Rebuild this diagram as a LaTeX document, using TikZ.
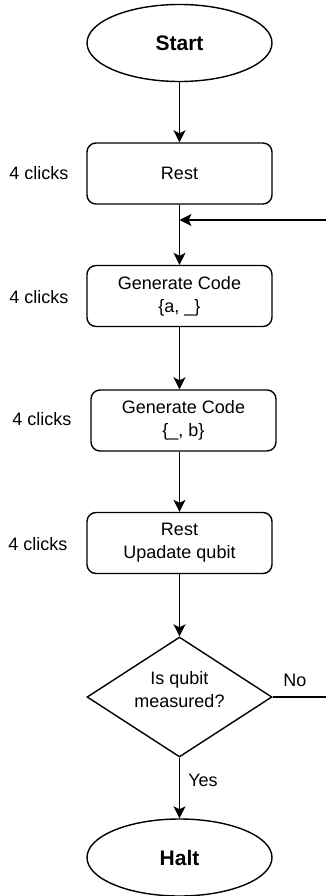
\documentclass[tikz,border=0pt]{standalone}
\usepackage{fontspec}
\setmainfont{Liberation Sans}
\usetikzlibrary{shapes.geometric,arrows.meta}
\begin{document}
\begin{tikzpicture}[x=1pt,y=-1pt,
  every node/.style={font=\fontsize{18}{23}\selectfont},
  line/.style={line width=1.4pt},
  arr/.style={line, -{Stealth[length=12pt,width=12pt,inset=3pt]}},
  terminal/.style={ellipse, draw, line width=1.4pt, minimum width=185pt, minimum height=77pt, inner sep=0pt, font=\fontsize{21}{25}\selectfont\bfseries},
  procbox/.style={rectangle, draw, line width=1.4pt, rounded corners=9pt, minimum width=185pt, minimum height=61pt, inner sep=0pt, align=center},
  decision/.style={diamond, draw, line width=1.4pt, aspect=1.54, minimum width=185pt, minimum height=120pt, inner sep=0pt},
  side/.style={anchor=center},
]
\useasboundingbox (0,0) rectangle (325,896);
\node[terminal] (start) at (179.5,43) {Start};
\node[procbox] (rest) at (179.5,173.5) {Rest};
\node[procbox] (gen1) at (179.5,296) {Generate Code\\\{a, \_\}};
\node[procbox] (gen2) at (183.5,420.5) {Generate Code\\\{\_, b\}};
\node[procbox] (rest2) at (179.5,543) {Rest\\Upadate qubit};
\node[decision] (dec) at (179.5,697) {};
\node[align=center] (dtext) at (179.5,690) {Is qubit\\measured?};
\node[terminal] (halt) at (179.5,857.5) {Halt};

\node[side] (c1) at (39,173.5) {4 clicks};
\node[side] (c2) at (39,297) {4 clicks};
\node[side] (c3) at (42,419) {4 clicks};
\node[side] (c4) at (38,544) {4 clicks};

\node (no) at (295,680) {No};
\node (yes) at (203,780) {Yes};

\coordinate (j) at (179.5,220);
\coordinate (far1) at (345,697);
\coordinate (far2) at (345,220);

\draw[arr] (start) -- (rest);
\draw[arr] (rest) -- (gen1);
\draw[arr] (gen1.south) -- (gen1.south |- gen2.north);
\draw[arr] (gen1.south |- gen2.south) -- (rest2.north);
\draw[arr] (rest2) -- (dec);
\draw[arr] (dec) -- (halt);
\draw[arr] (dec.east) -- (far1) -- (far2) -- (j);
\end{tikzpicture}
\end{document}
